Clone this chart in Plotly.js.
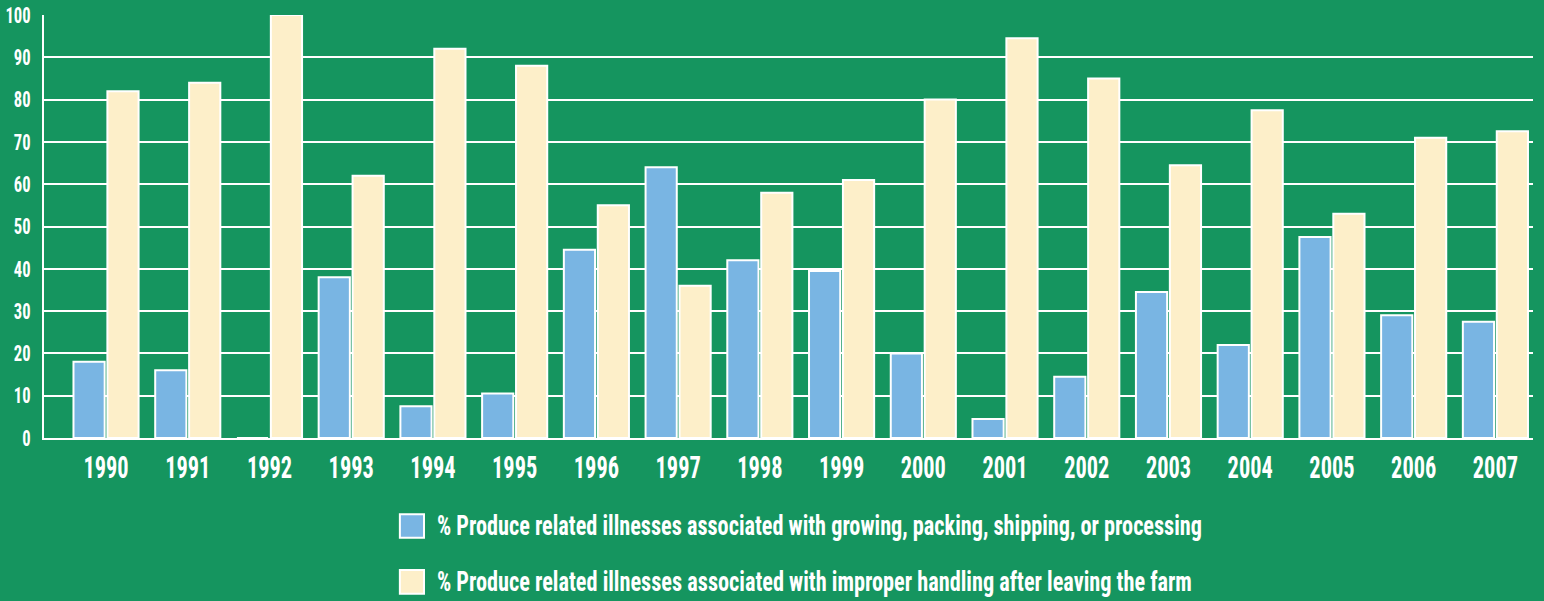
<!DOCTYPE html>
<html>
<head>
<meta charset="utf-8">
<script src="https://cdn.plot.ly/plotly-3.0.1.min.js"></script>
<style>
html,body{margin:0;padding:0;background:#15955F;}
#chart{width:1544px;height:601px;}
</style>
</head>
<body>
<div id="chart"></div>
<script>
const years = ["1990","1991","1992","1993","1994","1995","1996","1997","1998","1999","2000","2001","2002","2003","2004","2005","2006","2007"];
const growingPacking = [18,16,0,38,7.5,10.5,44.5,64,42,39.5,20,4.5,14.5,34.5,22,47.5,29,27.5];
const improperHandling = [82,84,100,62,92,88,55,36,58,61,80,94.5,85,64.5,77.5,53,71,72.5];
const seriesNames = [
  "% Produce related illnesses associated with growing, packing, shipping, or processing",
  "% Produce related illnesses associated with improper handling after leaving the farm"
];
const yTicks = [0,10,20,30,40,50,60,70,80,90,100];

const BG = "#15955F";
const BLUE = "#79B5E3";
const CREAM = "#FDEFC9";
const FONT = "'Roboto Condensed', 'Open Sans Condensed', 'Liberation Sans Narrow', 'DejaVu Sans Condensed', sans-serif";

const traces = [
  {type:"bar", x: years, y: growingPacking, name: seriesNames[0],
   marker:{color: BLUE, line:{color:"#ffffff", width:2}}, hoverinfo:"x+y"},
  {type:"bar", x: years, y: improperHandling, name: seriesNames[1],
   marker:{color: CREAM, line:{color:"#ffffff", width:2}}, hoverinfo:"x+y"}
];

const legendColors = [BLUE, CREAM];
const legendY = [-0.208, -0.340];
const legendCenterX = [0.5205, 0.5175];
const shapes = [];
const annotations = [];
seriesNames.forEach((n,i)=>{
  shapes.push({type:"rect", xref:"paper", yref:"paper",
    x0:0.239, x1:0.2552, y0:legendY[i]-0.028, y1:legendY[i]+0.028,
    fillcolor: legendColors[i], line:{color:"#ffffff", width:2}});
  annotations.push({xref:"paper", yref:"paper", x:legendCenterX[i], y:legendY[i],
    xanchor:"center", yanchor:"middle", showarrow:false, text:n,
    font:{family:FONT, size:28, color:"#ffffff", weight:"bold"}});
});

const layout = {
  width:1544, height:601,
  paper_bgcolor: BG, plot_bgcolor: BG,
  margin:{l:44, r:11, t:15, b:163},
  barmode:"group", bargap:0.17, bargroupgap:0.08,
  showlegend:false,
  font:{family:FONT, color:"#ffffff", weight:"bold"},
  xaxis:{type:"category", range:[-0.759, 17.46], showgrid:false, showline:true,
    linecolor:"#ffffff", linewidth:2, ticks:"", ticklabelstandoff:0,
    tickfont:{family:FONT, size:32, color:"#ffffff", weight:"bold"},
    fixedrange:true},
  yaxis:{range:[0,100], tickvals:yTicks, showgrid:true, gridcolor:"#ffffff", gridwidth:2,
    showline:true, linecolor:"#ffffff", linewidth:2, zeroline:false, ticks:"",
    ticklabelstandoff:7,
    tickfont:{family:FONT, size:22, color:"#ffffff", weight:"bold"}, fixedrange:true},
  shapes: shapes,
  annotations: annotations
};

function squeeze(t, tw){
  const w = t.getComputedTextLength();
  if (tw && tw < w){
    t.setAttribute("textLength", tw.toFixed(2));
    t.setAttribute("lengthAdjust", "spacingAndGlyphs");
  }
}

Plotly.newPlot("chart", traces, layout, {displayModeBar:false, staticPlot:true}).then(()=>{
  // the reference uses a very narrow (DIN Condensed style) face: fit each text to its width in the reference
  document.querySelectorAll("#chart .xtick text").forEach(t=> squeeze(t, t.textContent.length*11.3));
  document.querySelectorAll("#chart .ytick text").forEach(t=> squeeze(t, t.textContent.length*8.4));
  const legendWidths = [765, 755];
  document.querySelectorAll("#chart .annotation-text").forEach((t,i)=> squeeze(t, legendWidths[i]));
});
</script>
</body>
</html>
